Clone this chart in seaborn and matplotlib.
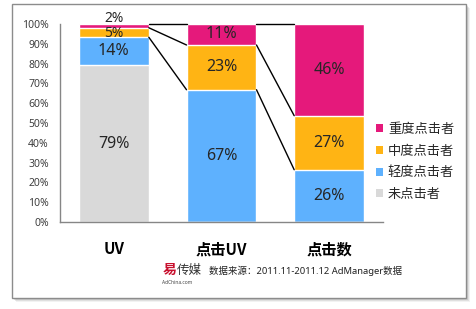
import matplotlib
matplotlib.use("Agg")
import matplotlib.pyplot as plt
import seaborn as sns
import numpy as np
import pandas as pd
from matplotlib.patches import Rectangle, Patch

# ---- data ----
categories = ['UV', '点击UV', '点击数']
series_names = ['未点击者', '轻度点击者', '中度点击者', '重度点击者']
none_vals = [79.2, 0.0, 0.0]
light_vals = [14.1, 66.8, 26.4]
mid_vals = [4.8, 22.6, 27.3]
heavy_vals = [1.9, 10.6, 46.3]
y_ticks = [0, 10, 20, 30, 40, 50, 60, 70, 80, 90, 100]
source_text = '数据来源：2011.11-2011.12 AdManager数据'

colors = ['#D9D9D9', '#5EB1FE', '#FFB414', '#E5197B']

sns.set_theme(style='white')
plt.rcParams['font.family'] = ['Noto Sans', 'Noto Sans CJK SC', 'DejaVu Sans']

W, H = 476, 309
fig = plt.figure(figsize=(W / 100, H / 100), dpi=100)
fig.patch.set_facecolor('white')

def fx(x):
    return x / W

def fy(y):
    return 1 - y / H

# frame with shadow
for k, a in enumerate([0.10, 0.16, 0.22]):
    off = 4 - k
    fig.patches.append(Rectangle((fx(12 + off), fy(298 + off)), fx(454), 294 / H,
                                 transform=fig.transFigure, facecolor='#808080',
                                 edgecolor='none', alpha=a, zorder=-3))
fig.patches.append(Rectangle((fx(12), fy(298)), fx(454), 294 / H,
                             transform=fig.transFigure, facecolor='white',
                             edgecolor='#8c8c8c', linewidth=1, zorder=-2))

ax = fig.add_axes([fx(60), fy(222), fx(383 - 60), (222 - 24) / H])
ax.set_zorder(2)
ax.set_facecolor('none')

vals = np.array([none_vals, light_vals, mid_vals, heavy_vals])
cum = np.cumsum(vals, axis=0)
bar_w = 0.65

for s in range(len(series_names) - 1, -1, -1):
    df = pd.DataFrame({'cat': categories, 'val': cum[s]})
    sns.barplot(data=df, x='cat', y='val', order=categories, color=colors[s],
                saturation=1, width=bar_w, edgecolor='white', linewidth=1,
                ax=ax, zorder=2)

# value labels
for s in range(len(series_names)):
    for i in range(len(categories)):
        v = vals[s, i]
        if v <= 0:
            continue
        mid = cum[s, i] - v / 2
        fs = 11.5
        if v < 6:
            fs = 10
            mid -= 0.6
        if v < 3:
            mid = cum[s, i] + 3.0
        ax.text(i, mid, f'{v:.0f}%', ha='center', va='center', fontsize=fs,
                color='#262626', zorder=5, clip_on=False)

# connecting lines
for i in range(len(categories) - 1):
    for s in [3, 2, 1]:
        ax.plot([i + bar_w / 2, i + 1 - bar_w / 2], [cum[s, i], cum[s, i + 1]],
                color='black', linewidth=1, zorder=3, clip_on=False)

ax.set_ylim(0, 100)
ax.set_xlim(-0.5, 2.5)
ax.set_yticks(y_ticks)
ax.set_yticklabels([f'{t}%' for t in y_ticks], fontsize=7.5, color='#404040')
ax.set_xlabel('')
ax.set_ylabel('')
ax.tick_params(axis='y', length=0, pad=8)
ax.tick_params(axis='x', length=0, pad=14)
for lab in ax.get_xticklabels():
    lab.set_fontsize(11)
    lab.set_fontweight('bold')
    lab.set_fontfamily(['Noto Sans CJK SC', 'DejaVu Sans'])
    lab.set_color('black')
for sp in ['top', 'right']:
    ax.spines[sp].set_visible(False)
for sp in ['left', 'bottom']:
    ax.spines[sp].set_color('#868686')
    ax.spines[sp].set_linewidth(1)

# legend
handles = [Patch(facecolor=colors[s], edgecolor='none', label=series_names[s])
           for s in [3, 2, 1, 0]]
fig.legend(handles=handles, loc='upper left', bbox_to_anchor=(fx(376), fy(123)),
           frameon=False, fontsize=9.5, handlelength=0.55, handleheight=0.55,
           handletextpad=0.35, labelspacing=0.66, borderaxespad=0, borderpad=0)

# source / logo
fig.text(fx(163), fy(270), '易', fontsize=10, color='#C8102E', fontweight='bold',
         va='center', ha='left')
fig.text(fx(177), fy(270), '传媒', fontsize=9, color='#333333', va='center', ha='left')
fig.text(fx(162), fy(283), 'AdChina.com', fontsize=3.5, color='#444444', va='center', ha='left')
fig.text(fx(209), fy(271), source_text, fontsize=6.8, color='#222222', va='center', ha='left')

fig.savefig('out.png', dpi=100, facecolor='white')
